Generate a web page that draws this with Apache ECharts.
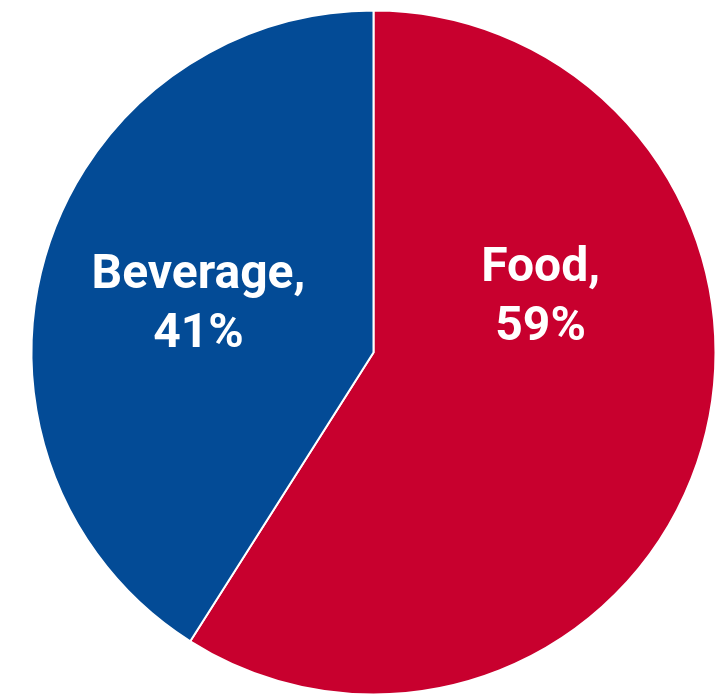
<!DOCTYPE html>
<html><head><meta charset="utf-8">
<style>html,body{margin:0;padding:0;background:#fff}#c{width:720px;height:697px}</style>
<script src="https://cdn.jsdelivr.net/npm/echarts@6/dist/echarts.min.js"></script>
</head><body><div id="c"></div>
<script>
const categories = ["Food", "Beverage"];
const values = [59, 41];
const colors = ["#C8002E", "#034B96"];
const labelOffsets = [[0, -103], [-8, 2]];

const chart = echarts.init(document.getElementById('c'), null, {renderer: 'canvas'});
chart.setOption({
  animation: false,
  series: [{
    type: 'pie',
    center: [373.5, 352.5],
    radius: [0, 342],
    startAngle: 90,
    clockwise: true,
    itemStyle: {borderColor: '#fff', borderWidth: 2},
    label: {
      show: true,
      position: 'inside',
      formatter: p => p.name + ',\n' + p.value + '%',
      color: '#fff',
      fontFamily: 'Roboto',
      fontWeight: 'bold',
      fontSize: 48,
      lineHeight: 59,
      align: 'center'
    },
    labelLine: {show: false},
    emphasis: {disabled: true},
    data: categories.map((c, i) => ({
      name: c, value: values[i],
      itemStyle: {color: colors[i]},
      label: {offset: labelOffsets[i]}
    }))
  }]
});
</script></body></html>
